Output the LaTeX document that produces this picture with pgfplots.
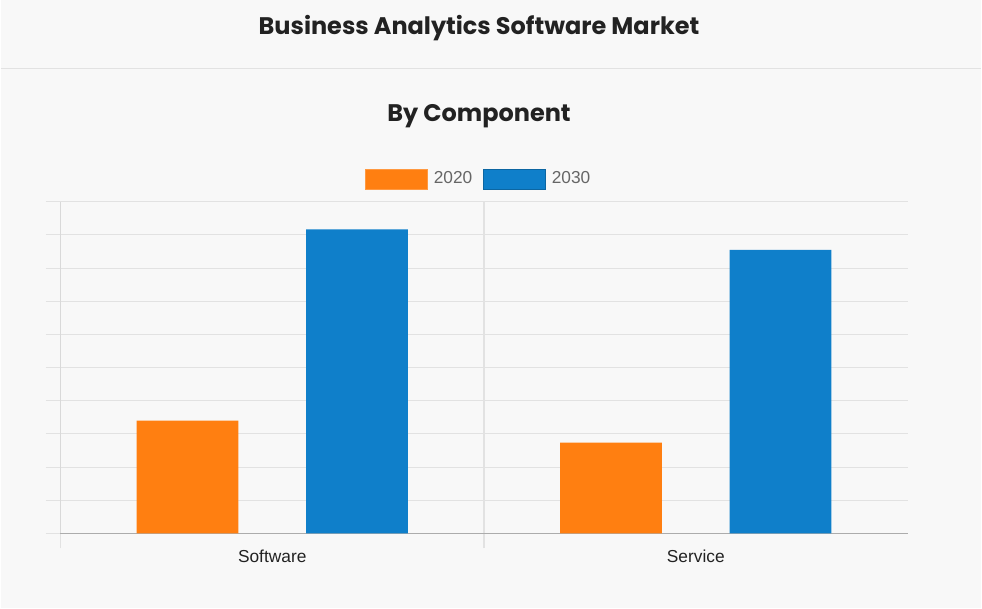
\documentclass[border=0pt]{standalone}
\usepackage{pgfplots}
\pgfplotsset{compat=1.18}
\usepackage{fontspec}
\setmainfont{Liberation Sans}
\newfontfamily\poppins{Poppins}
\definecolor{bg}{HTML}{F8F8F8}
\definecolor{orng}{HTML}{FF7F11}
\definecolor{blu}{HTML}{0F7FCA}
\definecolor{grd}{HTML}{E2E2E2}
\definecolor{ttl}{HTML}{222222}
\begin{document}
\begin{tikzpicture}
\fill[bg] (0,0) rectangle (736.5pt,456.75pt);
\draw[grd, line width=0.8pt] (0,405pt) -- (736.5pt,405pt);
\node[text=ttl, font=\poppins\bfseries\fontsize{18}{22}\selectfont] at (359.25pt,435.75pt) {Business Analytics Software Market};
\node[text=ttl, font=\poppins\bfseries\fontsize{18}{22}\selectfont] at (359.25pt,369.75pt) {By Component};
\begin{axis}[
  at={(45pt,56.25pt)}, anchor=south west,
  scale only axis, width=636pt, height=249pt,
  xmin=-0.5, xmax=1.5, ymin=0, ymax=10,
  xtick={-0.5,0.5}, xticklabels={},
  xmajorgrids,
  major tick length=11pt, tick align=outside,
  xtick style={draw=grd, line width=0.8pt},
  extra x ticks={0,1}, extra x tick labels={Software, Service},
  extra x tick style={major tick length=0pt, grid=none},
  ytick={0,1,...,10}, yticklabels={},
  ymajorgrids, grid style={grd, line width=0.8pt},
  ytick style={draw=grd, line width=0.8pt},
  axis x line*=bottom, axis y line*=left,
  x axis line style={draw=gray!65, line width=0.8pt, -},
  y axis line style={draw=black!15, line width=0.8pt, -},
  xticklabel style={text=ttl, font=\fontsize{13}{15}\selectfont, yshift=-9pt},
  legend style={at={(axis description cs:0.494,1.0693)}, anchor=center, draw=none, fill=none,
    legend columns=2, font=\fontsize{13}{15}\selectfont, text=black!60,
    /tikz/every even column/.append style={column sep=6pt}},
  legend cell align=left,
]
\addplot[ybar, bar width=0.24, bar shift=-0.2, fill=orng, draw=none, area legend,
  legend image code/.code={\draw[fill=orng, draw=orng!80!white] (0pt,-7.5pt) rectangle (46.5pt,7.5pt); \path (49.5pt,0pt);}]
  coordinates {(0,3.4) (1,2.74)};
\addlegendentry{2020}
\addplot[ybar, bar width=0.24, bar shift=0.2, fill=blu, draw=none, area legend,
  legend image code/.code={\draw[fill=blu, draw=blu!80!black] (0pt,-7.5pt) rectangle (46.5pt,7.5pt); \path (49.5pt,0pt);}]
  coordinates {(0,9.17) (1,8.55)};
\addlegendentry{2030}
\end{axis}
\end{tikzpicture}
\end{document}
